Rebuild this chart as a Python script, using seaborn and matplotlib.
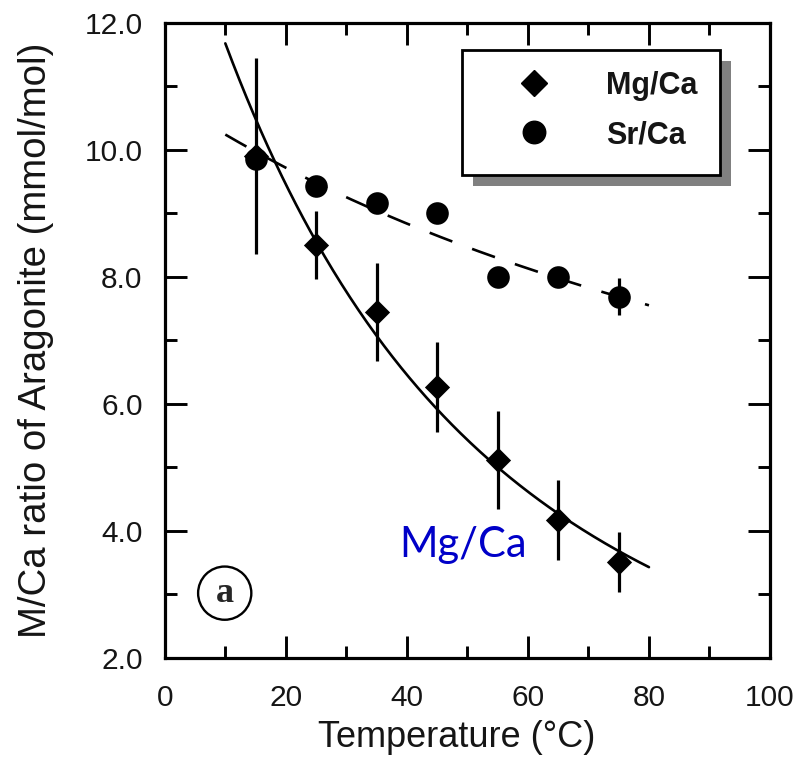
import numpy as np
import pandas as pd
import matplotlib
matplotlib.use("Agg")
import matplotlib.pyplot as plt
from matplotlib.lines import Line2D
from matplotlib.patches import Rectangle
from matplotlib.ticker import MultipleLocator, FormatStrFormatter
import seaborn as sns

# Aragonite precipitation experiments
temperature = [15, 25, 35, 45, 55, 65, 75]          # °C
mg_ca = [9.90, 8.50, 7.45, 6.27, 5.12, 4.17, 3.51]   # mmol/mol
mg_ca_err = [1.54, 0.53, 0.77, 0.71, 0.77, 0.63, 0.47]
sr_ca = [9.85, 9.43, 9.17, 9.00, 8.00, 7.99, 7.69]   # mmol/mol
sr_ca_err = [0.0, 0.0, 0.0, 0.0, 0.0, 0.0, 0.29]

# Arrhenius-type fits: ln(M/Ca) = a + b / T[K]
mg_fit = (-3.723, 1750.0)
sr_fit = (0.790, 435.0)
fit_range = (10, 80)

series_labels = ["Mg/Ca", "Sr/Ca"]
x_label = "Temperature (°C)"
y_label = "M/Ca ratio of Aragonite (mmol/mol)"

sns.set_theme(style="ticks")
plt.rcParams["font.family"] = ["Liberation Sans", "DejaVu Sans"]

fig = plt.figure(figsize=(8, 7.58), dpi=100)
ax = fig.add_axes([0.206, 0.132, 0.7565, 0.838])

# fitted curves
t_fit = np.linspace(fit_range[0], fit_range[1], 300)
inv_T = 1.0 / (t_fit + 273.15)
fits = pd.DataFrame({
    "t": t_fit,
    "Mg/Ca": np.exp(mg_fit[0] + mg_fit[1] * inv_T),
    "Sr/Ca": np.exp(sr_fit[0] + sr_fit[1] * inv_T),
})
sns.lineplot(data=fits, x="t", y="Mg/Ca", color="black", lw=1.9, ax=ax, zorder=2)
sns.lineplot(data=fits, x="t", y="Sr/Ca", color="black", lw=1.9,
             ls=(0, (9.2, 8.0)), ax=ax, zorder=2)

# measurements with error bars
ax.errorbar(temperature, mg_ca, yerr=mg_ca_err, fmt="none", ecolor="black",
            elinewidth=2.3, capsize=0, zorder=3)
ax.errorbar(temperature, sr_ca, yerr=sr_ca_err, fmt="none", ecolor="black",
            elinewidth=2.3, capsize=0, zorder=3)
sns.scatterplot(x=temperature, y=mg_ca, marker="D", s=165, color="black",
                edgecolor="black", linewidth=0, ax=ax, zorder=4)
sns.scatterplot(x=temperature, y=sr_ca, marker="o", s=265, color="black",
                edgecolor="black", linewidth=0, ax=ax, zorder=5)

# axes
ax.set_xlim(0, 100)
ax.set_ylim(2, 12)
ax.xaxis.set_major_locator(MultipleLocator(20))
ax.xaxis.set_minor_locator(MultipleLocator(10))
ax.yaxis.set_major_locator(MultipleLocator(2))
ax.yaxis.set_minor_locator(MultipleLocator(1))
ax.yaxis.set_major_formatter(FormatStrFormatter("%.1f"))
ax.tick_params(which="both", direction="in", top=True, right=True,
               width=2.1, color="black", labelsize=21.5, labelcolor="#151515")
ax.tick_params(which="major", length=16)
ax.tick_params(which="minor", length=8.6)
ax.tick_params(axis="y", pad=16)
ax.tick_params(axis="x", pad=19)
for sp in ax.spines.values():
    sp.set_linewidth(2.3)
    sp.set_color("black")

ax.set_xlabel(x_label, fontsize=26, color="#151515", va="center")
ax.set_ylabel(y_label, fontsize=27.6, color="#151515", va="center")
ax.xaxis.set_label_coords(0.483, -0.126)
ax.yaxis.set_label_coords(-0.212, 0.5)

# legend with drop shadow
box_x, box_top, box_w, box_h = 0.491, 0.957, 0.426, 0.197
ax.add_patch(Rectangle((box_x + 11 / 605, box_top - box_h - 11 / 635), box_w, box_h,
                       transform=ax.transAxes, facecolor="#808080",
                       edgecolor="none", zorder=6, clip_on=False))
ax.add_patch(Rectangle((box_x, box_top - box_h), box_w, box_h,
                       transform=ax.transAxes, facecolor="white",
                       edgecolor="black", lw=2.0, zorder=6.1, clip_on=False))
handles = [
    Line2D([], [], ls="none", marker="D", ms=13.2, color="black"),
    Line2D([], [], ls="none", marker="o", ms=16.2, color="black"),
]
leg = ax.legend(handles, series_labels, loc="upper left",
                bbox_to_anchor=(box_x, box_top), borderaxespad=0,
                frameon=False, prop=dict(weight="bold", size=22),
                handlelength=3.35, handletextpad=0.68, borderpad=0.68,
                labelspacing=0.63)
leg.set_zorder(7)
for txt in leg.get_texts():
    txt.set_color("#151515")

# annotations
ax.text(38.8, 3.59, "Mg/Ca", color="#0000c8", fontsize=30,
        family=["Lato", "DejaVu Sans"], ha="left", va="baseline", zorder=5)
ax.text(9.9, 3.02, "a", fontsize=26, fontweight="bold",
        family=["Liberation Serif", "DejaVu Serif"], ha="center", va="center",
        bbox=dict(boxstyle="circle,pad=0.28", fc="white", ec="black", lw=1.7),
        zorder=5)

fig.savefig("out.png", dpi=100)
